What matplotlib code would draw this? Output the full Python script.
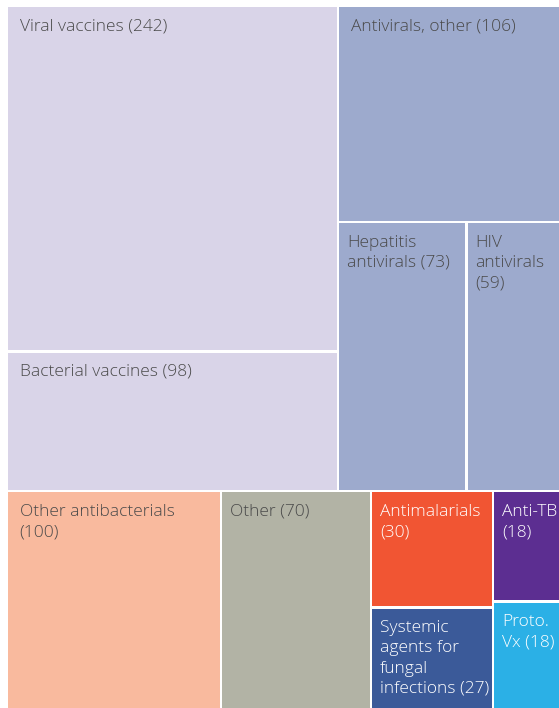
import matplotlib
matplotlib.use("Agg")
import matplotlib.pyplot as plt
from matplotlib.patches import Rectangle

# Pipeline counts by category
labels = [
    "Viral vaccines (242)",
    "Bacterial vaccines (98)",
    "Antivirals, other (106)",
    "Hepatitis\nantivirals (73)",
    "HIV\nantivirals\n(59)",
    "Other antibacterials\n(100)",
    "Other (70)",
    "Antimalarials\n(30)",
    "Systemic\nagents for\nfungal\ninfections (27)",
    "Anti-TB\n(18)",
    "Proto.\nVx (18)",
]
values = [242, 98, 106, 73, 59, 100, 70, 30, 27, 18, 18]
colors = [
    "#D9D4E8", "#D9D4E8", "#9DAACD", "#9DAACD", "#9DAACD",
    "#F9BA9E", "#B2B3A5", "#F15533", "#3B5A99", "#5C2E91", "#2BB0E6",
]
text_colors = [
    "#4A4A4A", "#4A4A4A", "#4A4A4A", "#4A4A4A", "#4A4A4A",
    "#4A4A4A", "#4A4A4A", "white", "white", "white", "white",
]

# Grouping of categories (indices); split direction alternates by depth
tree = [[[0, 1], [2, [3, 4]]], [5, 6, [7, 8], [9, 10]]]


def total(node):
    if isinstance(node, int):
        return values[node]
    return sum(total(c) for c in node)


def layout(node, x, y, w, h, depth, out):
    if isinstance(node, int):
        out[node] = (x, y, w, h)
        return
    s = total(node)
    pos = 0.0
    for child in node:
        frac = total(child) / s
        if depth % 2 == 0:  # stack top to bottom
            layout(child, x, y + pos * h, w, frac * h, depth + 1, out)
        else:  # side by side
            layout(child, x + pos * w, y, frac * w, h, depth + 1, out)
        pos += frac


fig = plt.figure(figsize=(5.59, 7.08), dpi=100)
ax = fig.add_axes([0, 0, 1, 1])
ax.set_xlim(0, 559)
ax.set_ylim(708, 0)
ax.axis("off")

rects = {}
layout(tree, 7, 6, 563, 706, 0, rects)

gap = 1.2
for i, (x, y, w, h) in rects.items():
    ax.add_patch(Rectangle((x + gap, y + gap), w - 2 * gap, h - 2 * gap,
                           facecolor=colors[i], edgecolor="none"))
    pad = 12.5 if w > 200 else 9
    ax.text(x + pad, y + 12.5, labels[i], ha="left", va="top",
            fontsize=12.5, family=["Open Sans", "DejaVu Sans"],
            fontweight="light", color=text_colors[i],
            linespacing=1.36, clip_on=True)

fig.savefig("out.png", dpi=100, facecolor="white")
